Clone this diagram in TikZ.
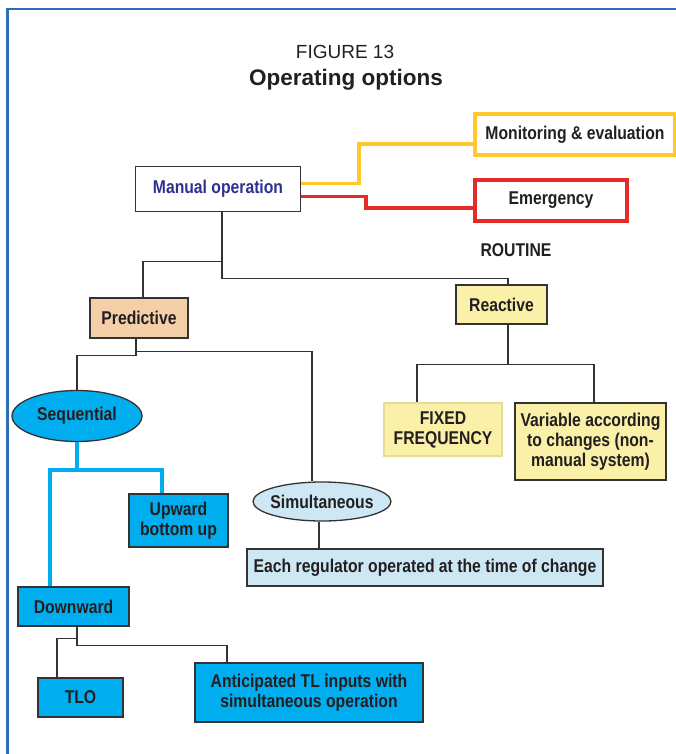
\documentclass[tikz,border=0pt]{standalone}
\usepackage{fontspec}
\setmainfont{Liberation Sans}
\newfontfamily\narrowfont{Liberation Sans}[FakeStretch=0.85]
\usetikzlibrary{shapes.geometric}

\definecolor{textcol}{HTML}{231F20}
\definecolor{boxline}{HTML}{333333}
\definecolor{framecol}{HTML}{2D6DB5}
\definecolor{manualblue}{HTML}{2E3192}
\definecolor{mustard}{HTML}{FFC72C}
\definecolor{alarmred}{HTML}{E52A2A}
\definecolor{peach}{HTML}{F4CFA8}
\definecolor{paleyellow}{HTML}{FAF0A8}
\definecolor{paleedge}{HTML}{E6DC9A}
\definecolor{cyanfill}{HTML}{00AEEF}
\definecolor{paleblue}{HTML}{CDE8F4}

\begin{document}
\begin{tikzpicture}[x=1pt, y=-1pt,
    every node/.style={inner sep=0pt, align=center, text=textcol,
      font=\narrowfont\bfseries\fontsize{18.5}{20}\selectfont},
    box/.style={draw=boxline, line width=1.3pt},
    oval/.style={draw=boxline, line width=1.3pt, ellipse},
    link/.style={draw=boxline, line width=1.3pt},
    cyanlink/.style={draw=cyanfill, line width=4.5pt},
    yellowlink/.style={draw=mustard, line width=3.5pt},
    redlink/.style={draw=alarmred, line width=3.5pt}]
  \useasboundingbox (0,0) rectangle (676,754);

  % Frame
  \draw[framecol, line width=2.5pt] (7.5,754) -- (7.5,9) -- (676,9);

  % Title
  \node[font=\fontsize{19}{22}\selectfont] (figno) at (345,52) {FIGURE 13};
  \node[font=\bfseries\fontsize{22.5}{25}\selectfont] (figtitle) at (346,80) {Operating options};

  % Top level
  \node[box, fill=white, text=manualblue, minimum width=165pt, minimum height=45pt] (manual) at (218,189) {Manual operation};
  \node[draw=mustard, line width=4pt, minimum width=200pt, minimum height=41pt] (monitor) at (575,134.5) {Monitoring \& evaluation};
  \node[draw=alarmred, line width=4pt, minimum width=152pt, minimum height=41pt] (emerg) at (551,200.5) {Emergency};
  \node (routine) at (516,250) {ROUTINE};

  % Routine branches
  \node[box, fill=peach, minimum width=98pt, minimum height=40pt] (predictive) at (139,318) {Predictive};
  \node[box, fill=paleyellow, minimum width=91pt, minimum height=39pt] (reactive) at (501.5,304.5) {Reactive};
  \node[draw=paleedge, line width=1.3pt, fill=paleyellow, minimum width=118pt, minimum height=53pt] (fixed) at (443,429.5) {FIXED\\FREQUENCY};
  \node[box, fill=paleyellow, minimum width=151pt, minimum height=77pt] (variable) at (590.5,441.5) {Variable according\\to changes (non-\\manual system)};

  % Predictive options
  \node[oval, fill=cyanfill, minimum width=130pt, minimum height=51pt] (seq) at (77,416) {Sequential};
  \node[box, fill=cyanfill, minimum width=99pt, minimum height=53pt] (upward) at (178.5,520.5) {Upward\\bottom up};
  \node[oval, fill=paleblue, inner xsep=-4pt, minimum width=138pt, minimum height=39pt] (simul) at (322,501.5) {Simultaneous};
  \node[box, fill=paleblue, minimum width=356pt, minimum height=37pt] (each) at (425,567.5) {Each regulator operated at the time of change};
  \node[box, fill=cyanfill, minimum width=111pt, minimum height=39pt] (downward) at (73.5,606.5) {Downward};
  \node[box, fill=cyanfill, minimum width=85pt, minimum height=39pt] (tlo) at (80.5,697.5) {TLO};
  \node[box, fill=cyanfill, minimum width=228pt, minimum height=59pt] (antic) at (309,692.5) {Anticipated TL inputs with\\simultaneous operation};

  % Coloured links
  \draw[yellowlink] ([yshift=5.5pt]manual.east) -- ++(58,0) |- ([yshift=-9.5pt]monitor.west);
  \draw[redlink] ([yshift=-7.5pt]manual.east) -- ++(65,0) |- ([yshift=-7.5pt]emerg.west);

  % Tree links
  \draw[link] ([xshift=4pt]manual.south) -- ++(0,66) -| ([xshift=6.5pt]reactive.north);
  \draw[link] ([xshift=4pt]manual.south) -- ++(0,49) -| ([xshift=4pt]predictive.north);
  \draw[link] ([xshift=6.5pt]reactive.south) -- ++(0,40) coordinate (rfork);
  \draw[link] ([xshift=-26pt]fixed.north) |- (rfork) -| ([xshift=3.5pt]variable.north);
  \draw[link] ([xshift=-3pt]predictive.south) -- ++(0,17) -| (seq.north);
  \draw[link] ([xshift=-3pt]predictive.south) ++(0,13) -| ([xshift=-10pt]simul.north);
  \draw[cyanlink] (seq.south) -- ++(0,28) coordinate (sfork);
  \draw[cyanlink] ([xshift=-23.5pt]downward.north) |- (sfork) -| ([xshift=-16.5pt]upward.north);
  \draw[link] ([xshift=-3pt]simul.south) -- ([xshift=-3pt]simul.south |- each.north);
  \draw[link] ([xshift=3.5pt]downward.south) -- ++(0,12) -| ([xshift=-23.5pt]tlo.north);
  \draw[link] ([xshift=3.5pt]downward.south) -- ++(0,19) -| ([xshift=-82pt]antic.north);
\end{tikzpicture}
\end{document}
